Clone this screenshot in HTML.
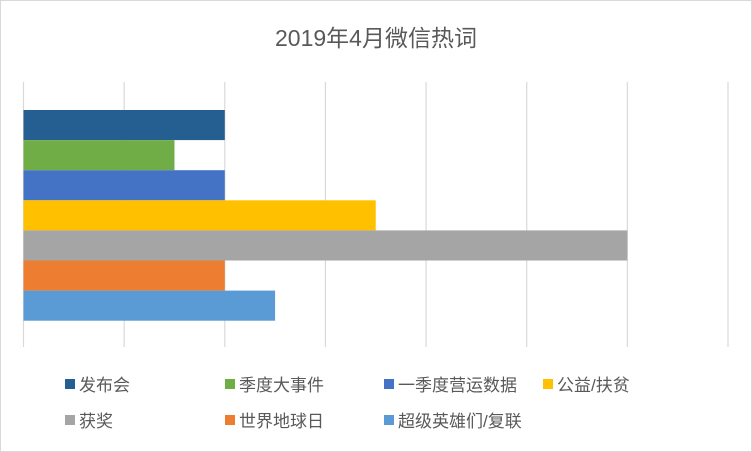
<!DOCTYPE html>
<html><head><meta charset="utf-8"><style>
html,body{margin:0;padding:0;background:#fff;}
#wrap{position:relative;width:752px;height:452px;overflow:hidden;font-family:"Liberation Sans","Noto Sans CJK SC",sans-serif;}
</style></head><body>
<div id="wrap">
<svg id="chart" width="752" height="452">
<rect x="0.5" y="0.5" width="751" height="451" fill="#fff" stroke="#d9d9d9"/>
<text x="376" y="46" text-anchor="middle" font-size="23" fill="#595959" font-family="Liberation Sans, Noto Sans CJK SC, sans-serif">2019年4月微信热词</text>
<g id="grid"></g><g id="bars"></g><g id="legend"></g>
</svg>
</div>
<script>
const categories = ["发布会","季度大事件","一季度营运数据","公益/扶贫","获奖","世界地球日","超级英雄们/复联"];
const values = [2, 1.5, 2, 3.5, 6, 2, 2.5];
const colors = ["#255e91","#70ad47","#4472c4","#ffc000","#a5a5a5","#ed7d31","#5b9bd5"];
const xTicks = [0,1,2,3,4,5,6,7];
const NS="http://www.w3.org/2000/svg";
const x0=23.5, x1=728, xMax=7, plotTop=82, plotBot=347, barTop=110, barH=30.1;
const xs=v=>x0+(x1-x0)*v/xMax;
const grid=document.getElementById('grid');
xTicks.forEach(t=>{const l=document.createElementNS(NS,'line');
l.setAttribute('x1',xs(t));l.setAttribute('x2',xs(t));l.setAttribute('y1',plotTop);l.setAttribute('y2',plotBot);
l.setAttribute('stroke','#d9d9d9');l.setAttribute('stroke-width','1.2');


grid.appendChild(l);});
const bars=document.getElementById('bars');
values.forEach((v,i)=>{const r=document.createElementNS(NS,'rect');
r.setAttribute('x',xs(0));r.setAttribute('y',barTop+i*barH);r.setAttribute('width',xs(v)-xs(0));r.setAttribute('height',barH);r.setAttribute('fill',colors[i]);


bars.appendChild(r);});
const lg=document.getElementById('legend');
const lx=[65,225,384,543], ly=[385,421];
categories.forEach((c,i)=>{const row=i<4?0:1, col=i<4?i:i-4;
const g=document.createElementNS(NS,'g');


const m=document.createElementNS(NS,'rect');
m.setAttribute('x',lx[col]);m.setAttribute('y',ly[row]-6);m.setAttribute('width',10);m.setAttribute('height',10);m.setAttribute('fill',colors[i]);


const t=document.createElementNS(NS,'text');
t.setAttribute('x',lx[col]+14);t.setAttribute('y',ly[row]+6);t.setAttribute('font-size','17');t.setAttribute('fill','#595959');
t.setAttribute('font-family','Liberation Sans, Noto Sans CJK SC, sans-serif');
t.textContent=c;


g.appendChild(m);g.appendChild(t);lg.appendChild(g);});
</script>
</body></html>
